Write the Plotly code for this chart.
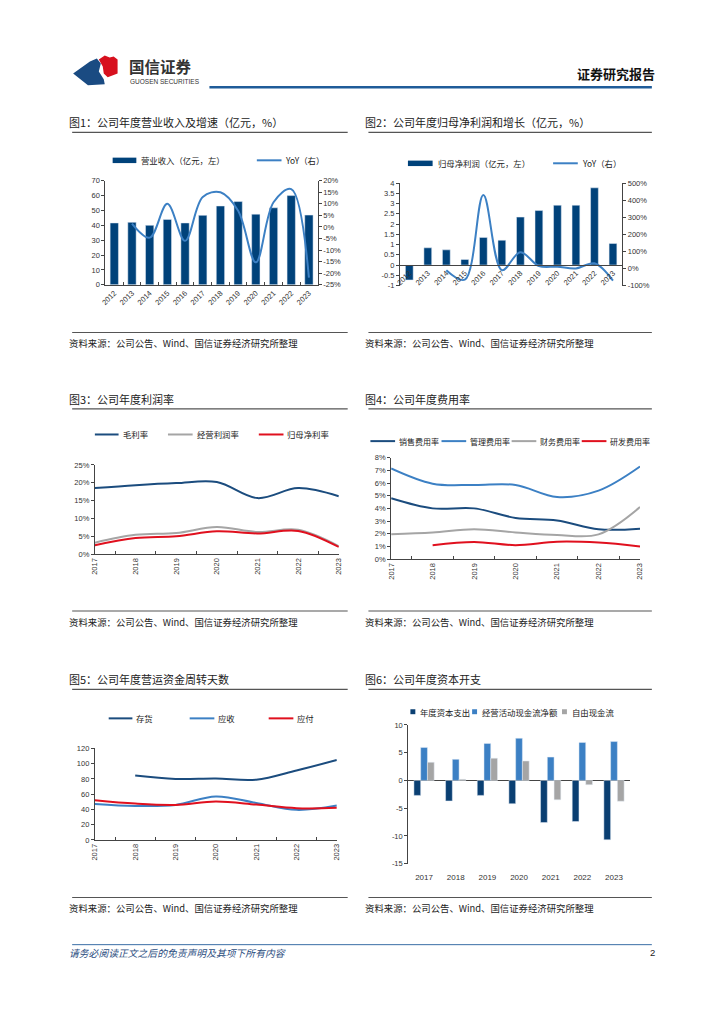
import plotly.graph_objects as go

W, H = 724, 1024


def px(x):
    return x / W


def py(y):
    return 1 - y / H


# ---------------- data ----------------
years12 = ['2012', '2013', '2014', '2015', '2016', '2017', '2018', '2019', '2020', '2021', '2022', '2023']
revenue = [41.6, 42.0, 40.0, 44.0, 41.6, 46.7, 53.0, 56.0, 47.5, 51.8, 60.0, 46.9]
revenue_yoy = [None, 1.5, -4.6, 10.0, -6.0, 13.0, 15.0, 7.0, -15.3, 10.7, 16.4, -21.9]

net_profit = [-0.73, 0.84, 0.74, 0.27, 1.35, 1.21, 2.34, 2.66, 2.92, 2.92, 3.77, 1.05]
net_profit_yoy = [None, None, -10, -66, 430, -10, 95, 14, 10, 0, 30, -72]

years7 = ['2017', '2018', '2019', '2020', '2021', '2022', '2023']
gross_margin = [18.5, 19.3, 19.9, 20.2, 15.7, 18.5, 16.2]
op_margin = [3.2, 5.4, 5.9, 7.6, 6.2, 6.8, 2.2]
net_margin = [2.5, 4.5, 5.0, 6.4, 5.8, 6.5, 2.0]

sell_exp = [4.8, 4.0, 4.0, 3.25, 3.05, 2.35, 2.4]
admin_exp = [7.15, 5.95, 5.85, 5.85, 4.9, 5.4, 7.3]
fin_exp = [1.96, 2.1, 2.35, 2.1, 1.9, 1.95, 4.1]
rd_exp = [None, 1.1, 1.35, 1.1, 1.37, 1.3, 1.0]

inventory_days = [None, 84.4, 80.0, 80.5, 79.0, 91.0, 104.8]
receivable_days = [47.2, 44.6, 45.9, 57.0, 48.5, 39.4, 45.0]
payable_days = [52.0, 47.6, 45.9, 50.2, 46.3, 41.6, 42.0]

capex = [-2.7, -3.7, -2.7, -4.2, -7.6, -7.4, -10.7]
cfo = [5.95, 3.8, 6.67, 7.6, 4.2, 6.85, 7.0]
fcf = [3.27, 0.2, 4.0, 3.5, -3.5, -0.77, -3.75]

y1_left_ticks = [0, 10, 20, 30, 40, 50, 60, 70]
y1_right_ticks = [-25, -20, -15, -10, -5, 0, 5, 10, 15, 20]
y1_right_text = ['-25%', '-20%', '-15%', '-10%', '-5%', '0%', '5%', '10%', '15%', '20%']
y2_left_ticks = [-1, -0.5, 0, 0.5, 1, 1.5, 2, 2.5, 3, 3.5, 4]
y2_left_text = ['-1', '-0.5', '0', '0.5', '1', '1.5', '2', '2.5', '3', '3.5', '4']
y2_right_ticks = [-100, 0, 100, 200, 300, 400, 500]
y2_right_text = ['-100%', '0%', '100%', '200%', '300%', '400%', '500%']
y6_ticks = [-15, -10, -5, 0, 5, 10]
y6_text = ['-15', '-10', '-5', '0', '5', '10']

# ---------------- colours ----------------
C_NAVY = '#00427A'
C_BLUE = '#3C80C4'
C_GREY = '#A5A5A5'
C_RED = '#E0101E'
C_DARK = '#1B4C7E'

TF = dict(family='Liberation Sans, Arial, sans-serif', size=7.5, color='#333')
CJK = 'Noto Sans CJK SC'
DX = 5  # annotation inner offset compensation

fig = go.Figure()

# Chart 1
fig.add_trace(go.Bar(x=years12, y=revenue, marker_color=C_NAVY, width=0.47,
                     xaxis='x', yaxis='y', showlegend=False))
fig.add_trace(go.Scatter(x=years12, y=revenue_yoy, mode='lines',
                         line=dict(color=C_BLUE, width=2, shape='spline', smoothing=1),
                         xaxis='x', yaxis='y2', showlegend=False))
# Chart 2
fig.add_trace(go.Bar(x=years12, y=net_profit, marker_color=C_NAVY, width=0.42,
                     xaxis='x2', yaxis='y3', showlegend=False))
fig.add_trace(go.Scatter(x=years12, y=net_profit_yoy, mode='lines',
                         line=dict(color=C_BLUE, width=2, shape='spline', smoothing=1),
                         xaxis='x2', yaxis='y4', showlegend=False))
# Chart 3
for vals, col in [(gross_margin, C_DARK), (op_margin, C_GREY), (net_margin, C_RED)]:
    fig.add_trace(go.Scatter(x=years7, y=vals, mode='lines',
                             line=dict(color=col, width=2, shape='spline', smoothing=1),
                             xaxis='x3', yaxis='y5', showlegend=False))
# Chart 4
for vals, col in [(sell_exp, C_DARK), (admin_exp, C_BLUE), (fin_exp, C_GREY), (rd_exp, C_RED)]:
    fig.add_trace(go.Scatter(x=years7, y=vals, mode='lines',
                             line=dict(color=col, width=2, shape='spline', smoothing=1),
                             xaxis='x4', yaxis='y6', showlegend=False))
# Chart 5
for vals, col in [(inventory_days, C_DARK), (receivable_days, C_BLUE), (payable_days, C_RED)]:
    fig.add_trace(go.Scatter(x=years7, y=vals, mode='lines',
                             line=dict(color=col, width=2, shape='spline', smoothing=1),
                             xaxis='x5', yaxis='y7', showlegend=False))
# Chart 6
for vals, col in [(capex, '#0A3F72'), (cfo, C_BLUE), (fcf, C_GREY)]:
    fig.add_trace(go.Bar(x=years7, y=vals, marker_color=col,
                         xaxis='x6', yaxis='y8', showlegend=False))

base = dict(showgrid=False, zeroline=False, linecolor='#444', linewidth=1,
            tickfont=TF, fixedrange=True, tickcolor='#444')

# domains
c1x = [px(101.7), px(316.7)]; c1y = [py(283.3), py(178.3)]
c2x = [px(400), px(625)]; c2y = [py(284), py(180.7)]
c3x = [px(91), px(338)]; c3y = [py(555), py(465)]
c4x = [px(391), px(643)]; c4y = [py(560), py(457.7)]
c5x = [px(91), px(336)]; c5y = [py(843.3), py(751)]
c6x = [px(408.3), px(632.7)]; c6y = [py(867.3), py(727.3)]

zero2 = c2y[0] + (0 - (-1)) / 5 * (c2y[1] - c2y[0])

layout = dict(
    width=W, height=H, autosize=False,
    margin=dict(l=0, r=0, t=0, b=0),
    paper_bgcolor='white', plot_bgcolor='white',
    barmode='group', bargap=0.36, bargroupgap=0,
    xaxis=dict(domain=c1x, anchor='y', type='category', showline=True, ticks='inside',
               tickson='boundaries', ticklen=3, tickangle=-45, **base),
    yaxis=dict(domain=c1y, anchor='x', range=[0, 70], tickvals=y1_left_ticks, showline=True,
               ticks='outside', ticklen=3, **base),
    yaxis2=dict(overlaying='y', side='right', anchor='x', range=[-25, 20], tickvals=y1_right_ticks,
                ticktext=y1_right_text, showline=True, ticks='outside', ticklen=3, **base),
    xaxis2=dict(domain=c2x, anchor='free', position=zero2, type='category', showline=True,
                ticks='', tickangle=-45, **base),
    yaxis3=dict(domain=c2y, anchor='x2', range=[-1, 4], tickvals=y2_left_ticks, ticktext=y2_left_text,
                showline=True, ticks='outside', ticklen=3, **base),
    yaxis4=dict(overlaying='y3', side='right', anchor='x2', range=[-100, 500], tickvals=y2_right_ticks,
                ticktext=y2_right_text, showline=True, ticks='outside', ticklen=3, **base),
    xaxis3=dict(domain=c3x, anchor='y5', type='category', showline=True, ticks='inside',
                tickson='boundaries', ticklen=3, tickangle=-90, **base),
    yaxis5=dict(domain=c3y, anchor='x3', range=[0, 25], dtick=5, ticksuffix='%', showline=True,
                ticks='outside', ticklen=3, **base),
    xaxis4=dict(domain=c4x, anchor='y6', type='category', showline=True, ticks='inside',
                tickson='boundaries', ticklen=3, tickangle=-90, **base),
    yaxis6=dict(domain=c4y, anchor='x4', range=[0, 8], dtick=1, ticksuffix='%', showline=True,
                ticks='outside', ticklen=3, **base),
    xaxis5=dict(domain=c5x, anchor='y7', type='category', showline=True, ticks='inside',
                tickson='boundaries', ticklen=3, tickangle=-90, **base),
    yaxis7=dict(domain=c5y, anchor='x5', range=[0, 120], dtick=20, showline=True,
                ticks='outside', ticklen=3, **base),
    xaxis6=dict(domain=c6x, anchor='y8', type='category', showline=False, ticks='',
                tickangle=0, ticklabelstandoff=7, **base),
    yaxis8=dict(domain=c6y, anchor='x6', range=[-15, 10], tickvals=y6_ticks, ticktext=y6_text,
                showline=True, ticks='outside', ticklen=3, **base),
)
layout['yaxis8']['zeroline'] = True
layout['yaxis8']['zerolinecolor'] = '#444'
layout['yaxis8']['zerolinewidth'] = 1
layout['xaxis6']['tickfont'] = dict(family='Liberation Sans, Arial, sans-serif', size=8, color='#333')

shapes = []
annotations = []


def hline(x0, x1, y, color, width):
    shapes.append(dict(type='line', xref='paper', yref='paper', x0=px(x0), x1=px(x1),
                       y0=py(y), y1=py(y), line=dict(color=color, width=width)))


def text(x, y, s, size, color='#222', anchor='left', family=CJK):
    xx = x - DX if anchor == 'left' else x + DX
    annotations.append(dict(xref='paper', yref='paper', x=px(xx), y=py(y), text=s, showarrow=False,
                            xanchor=anchor, yanchor='middle',
                            font=dict(family=family, size=size, color=color)))


def leg_line(x0, x1, y, color, label, size=8.4):
    hline(x0, x1, y, color, 2)
    text(x1 + 2 + DX, y, label, size)


def leg_rect(x0, x1, y0, y1, color, label):
    shapes.append(dict(type='rect', xref='paper', yref='paper', x0=px(x0), x1=px(x1),
                       y0=py(y1), y1=py(y0), fillcolor=color, line=dict(width=0)))
    text(x1 + 3 + DX, (y0 + y1) / 2, label, 8.4)


def poly(points, color):
    path = 'M ' + ' L '.join(f'{px(a):.5f},{py(b):.5f}' for a, b in points) + ' Z'
    shapes.append(dict(type='path', xref='paper', yref='paper', path=path,
                       fillcolor=color, line=dict(width=0)))


# header
poly([(69, 70), (86, 58), (93, 55), (97, 60), (95, 68), (100, 76), (101, 81), (84, 82)], '#1A4B82')
poly([(95, 56), (101, 52), (106, 54), (110, 53), (114, 56), (114, 70), (104, 74), (100, 70), (99, 63)], '#D7101E')
text(129, 63, '<b>国信证券</b>', 15.5, '#333')
text(130, 78, 'GUOSEN SECURITIES', 6.5, '#333', family='Liberation Sans, Arial, sans-serif')
text(655, 70, '<b>证券研究报告</b>', 13, '#111', anchor='right')
hline(207, 655, 84, '#1F5C99', 2.5)

# titles & sources
titles = [(68, 119, '图1：公司年度营业收入及增速（亿元，%）'), (368, 119, '图2：公司年度归母净利润和增长（亿元，%）'),
          (68, 398, '图3：公司年度利润率'), (368, 398, '图4：公司年度费用率'),
          (68, 681, '图5：公司年度营运资金周转天数'), (368, 681, '图6：公司年度资本开支')]
for x, y, s in titles:
    text(x, y, s, 11, '#222')
    hline(x, x + 279 if x < 100 else x + 287, y + 10.5, '#555', 1.2)

src = '资料来源：公司公告、Wind、国信证券经济研究所整理'
for x, y in [(68, 342), (368, 342), (68, 623), (368, 623), (68, 912), (368, 912)]:
    text(x, y, src, 9.4, '#222')
    hline(x, x + 279 if x < 100 else x + 287, y - 10.6, '#555', 1.2)

# legends
leg_rect(109, 133, 155, 160.5, C_NAVY, '营业收入（亿元，左）')
leg_line(255, 280, 157.7, C_BLUE, 'YoY（右）')
leg_rect(408, 433, 158, 163.5, C_NAVY, '归母净利润（亿元，左）')
leg_line(555, 580, 160.7, C_BLUE, 'YoY（右）')

leg_line(91, 115, 434.3, C_DARK, '毛利率')
leg_line(165, 190, 434.3, C_GREY, '经营利润率')
leg_line(257, 282, 434.3, C_RED, '归母净利率')

leg_line(370, 395, 441, C_DARK, '销售费用率', 8)
leg_line(442, 467, 441, C_BLUE, '管理费用率', 8)
leg_line(513, 538, 441, C_GREY, '财务费用率', 8)
leg_line(584, 609, 441, C_RED, '研发费用率', 8)

leg_line(105, 129, 720.7, C_DARK, '存货')
leg_line(187, 212, 720.7, C_BLUE, '应收')
leg_line(267, 292, 720.7, C_RED, '应付')

leg_rect(410.5, 415.5, 711.5, 716.5, '#0A3F72', '年度资本支出')
leg_rect(473, 478, 711.5, 716.5, C_BLUE, '经营活动现金流净额')
leg_rect(564, 569, 711.5, 716.5, C_GREY, '自由现金流')

# footer
hline(68, 655, 949, '#3A6EA5', 1)
text(68, 957, '<i>请务必阅读正文之后的免责声明及其项下所有内容</i>', 9.8, '#2B4D80')
text(655, 957, '2', 9.5, '#222', anchor='right', family='Liberation Sans, Arial, sans-serif')

layout['shapes'] = shapes
layout['annotations'] = annotations
fig.update_layout(**layout)

fig.write_html('out.html', config={'displayModeBar': False, 'staticPlot': True},
               post_script="document.body.style.margin='0';")
